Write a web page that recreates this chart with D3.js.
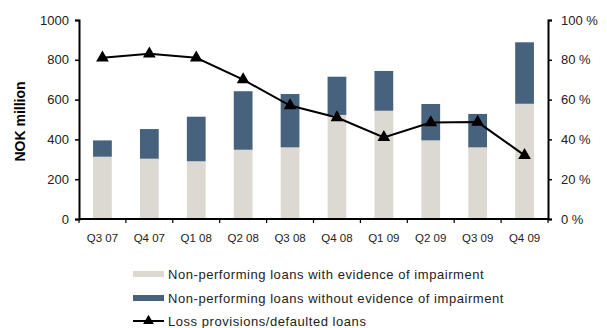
<!DOCTYPE html>
<html>
<head>
<meta charset="utf-8">
<script src="https://cdn.jsdelivr.net/npm/d3@7"></script>
<style>
  html, body { margin: 0; padding: 0; background: #fff; }
  svg { display: block; font-family: "Liberation Sans", Arial, sans-serif; }
</style>
</head>
<body>
<svg id="chart" width="607" height="328"></svg>
<script>
// Quarterly non-performing loans (NOK million) and loss provision ratio (%)
const quarters = ["Q3 07", "Q4 07", "Q1 08", "Q2 08", "Q3 08", "Q4 08", "Q1 09", "Q2 09", "Q3 09", "Q4 09"];
const withImpairment = [313, 303, 290, 348, 360, 523, 544, 395, 360, 579];
const withoutImpairment = [82, 149, 224, 294, 268, 192, 200, 183, 168, 309];
const provisionRatio = [81, 83, 81, 70, 57, 51, 41, 48.5, 48.7, 32];
const leftTicks = [0, 200, 400, 600, 800, 1000];
const rightTicks = [0, 20, 40, 60, 80, 100];

const seriesNames = [
  "Non-performing loans with evidence of impairment",
  "Non-performing loans without evidence of impairment",
  "Loss provisions/defaulted loans"
];
const colors = ["#dcd9d2", "#46627c", "#000000"];

const svg = d3.select("#chart");
const margin = { left: 79, right: 59, top: 20, bottom: 109 };
const W = 607, H = 328;
const plotW = W - margin.left - margin.right;
const plotH = H - margin.top - margin.bottom;

const x = d3.scaleBand().domain(quarters).range([margin.left, margin.left + plotW]).paddingInner(0.6).paddingOuter(0.3);
const xOuter = d3.scaleBand().domain(quarters).range([margin.left, margin.left + plotW]);
const yL = d3.scaleLinear().domain([0, 1000]).range([margin.top + plotH, margin.top]);
const yR = d3.scaleLinear().domain([0, 100]).range([margin.top + plotH, margin.top]);

// stacked bars
const rows = quarters.map((q, i) => ({ q, a: withImpairment[i], b: withoutImpairment[i] }));
const stack = d3.stack().keys(["a", "b"])(rows);
svg.append("g").selectAll("g").data(stack).join("g")
  .attr("fill", (d, i) => colors[i])
  .selectAll("rect").data(d => d).join("rect")
  .attr("x", d => x(d.data.q))
  .attr("width", x.bandwidth())
  .attr("y", d => yL(d[1]))
  .attr("height", d => yL(d[0]) - yL(d[1]));

// axes
const axisFont = g => g.selectAll("text").attr("font-size", 13).attr("fill", "#222");
const left = svg.append("g").attr("transform", `translate(${margin.left},0)`)
  .call(d3.axisLeft(yL).tickValues(leftTicks).tickSize(4).tickPadding(6).tickFormat(d3.format("d")));
left.call(axisFont);
const right = svg.append("g").attr("transform", `translate(${margin.left + plotW},0)`)
  .call(d3.axisRight(yR).tickValues(rightTicks).tickSize(4).tickPadding(9).tickFormat(d => d + " %"));
right.call(axisFont);
[left, right].forEach(g => {
  g.select(".domain").attr("stroke", "#000").attr("stroke-width", 2);
  g.selectAll(".tick line").attr("stroke", "#000").attr("stroke-width", 1.5);
});

// x axis: ticks between categories
const bottom = svg.append("g").attr("transform", `translate(0,${margin.top + plotH})`);
bottom.append("line").attr("x1", margin.left).attr("x2", margin.left + plotW)
  .attr("stroke", "#000").attr("stroke-width", 2);
bottom.selectAll("line.tk").data(d3.range(quarters.length + 1)).join("line").attr("class", "tk")
  .attr("x1", i => margin.left + i * xOuter.step()).attr("x2", i => margin.left + i * xOuter.step())
  .attr("y1", 0).attr("y2", 4).attr("stroke", "#000").attr("stroke-width", 1.2);
bottom.selectAll("text").data(quarters).join("text")
  .attr("x", d => xOuter(d) + xOuter.bandwidth() / 2)
  .attr("y", 23)
  .attr("text-anchor", "middle").attr("font-size", 11.5).attr("fill", "#222")
  .text(d => d);

// y title
svg.append("text")
  .attr("transform", `translate(25,${margin.top + plotH / 2 + 2}) rotate(-90)`)
  .attr("text-anchor", "middle").attr("font-size", 14).attr("font-weight", "bold")
  .text("NOK million");

// line with triangle markers
const cx = q => xOuter(q) + xOuter.bandwidth() / 2;
const line = d3.line().x((d, i) => cx(quarters[i])).y(d => yR(d));
svg.append("path").datum(provisionRatio).attr("d", line)
  .attr("fill", "none").attr("stroke", "#000").attr("stroke-width", 2);
const tri = d3.symbol().type(d3.symbolTriangle).size(70);
svg.append("g").selectAll("path").data(provisionRatio).join("path")
  .attr("d", tri)
  .attr("transform", (d, i) => `translate(${cx(quarters[i])},${yR(d)})`)
  .attr("fill", "#000");

// legend
const lg = svg.append("g").attr("transform", "translate(133,0)");
const ly = [274, 298, 321];
[0, 1].forEach(i => {
  lg.append("rect").attr("x", 0).attr("y", ly[i] - 3).attr("width", 31).attr("height", 6).attr("fill", colors[i]);
});
lg.append("line").attr("x1", 0).attr("x2", 31).attr("y1", ly[2]).attr("y2", ly[2]).attr("stroke", "#000").attr("stroke-width", 2);
lg.append("path").attr("d", d3.symbol().type(d3.symbolTriangle).size(50)).attr("transform", `translate(15.5,${ly[2]})`);
lg.selectAll("text").data(seriesNames).join("text")
  .attr("x", 35).attr("y", (d, i) => ly[i] + 4.5)
  .attr("font-size", 13).attr("letter-spacing", 0.55).attr("fill", "#222")
  .text(d => d);
</script>
</body>
</html>
